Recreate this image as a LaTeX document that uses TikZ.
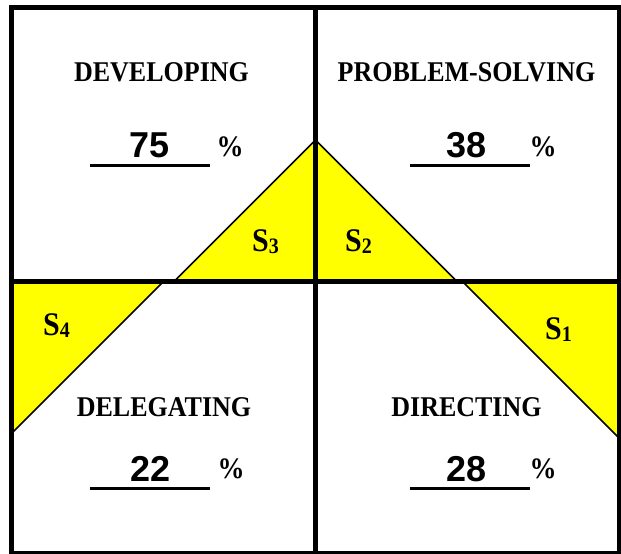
\documentclass[tikz,border=0pt]{standalone}
\usepackage{fontspec}
\setmainfont{Liberation Serif}
\newfontfamily\numfont{Liberation Sans}
\usetikzlibrary{positioning}
\definecolor{clrquad}{HTML}{FFFF00}
\definecolor{clrborder}{HTML}{000000}
\newcommand{\stretchy}[1]{\scalebox{1}[1.1]{#1}}
\newcommand{\sname}[1]{\bfseries\stretchy{\fontsize{30}{30}\selectfont S}\raisebox{-2pt}{\stretchy{\fontsize{20}{20}\selectfont #1}}}

\begin{document}
\begin{tikzpicture}[
    x=1pt, y=1pt,
    heading/.style={font=\fontsize{26}{26}\selectfont\bfseries, inner sep=0},
    score/.style={font=\numfont\fontsize{36}{36}\selectfont\bfseries, inner sep=0, anchor=base},
    pct/.style={font=\fontsize{27}{27}\selectfont\bfseries, inner sep=0, anchor=base},
    stylelbl/.style={inner sep=0, anchor=base west},
    frame/.style={draw=clrborder, line width=5pt},
    edge/.style={draw=clrborder, line width=1.5pt, line join=round},
    blank/.style={draw=clrborder, line width=3pt},
]
\useasboundingbox (0,0) rectangle (621,554);
\coordinate (apex) at (315.5,414);
\coordinate (mid_l) at (173.5,272);
\coordinate (mid_r) at (457.5,272);
\coordinate (s4_top) at (163,272);
\coordinate (s4_bot) at (11.5,120.5);
\coordinate (s1_top) at (463,272);
\coordinate (s1_bot) at (619.5,115.5);
\fill[clrquad] (mid_l) -- (apex) -- (mid_r) -- cycle;
\fill[clrquad] (11.5,272) -- (s4_top) -- (s4_bot) -- cycle;
\fill[clrquad] (619.5,272) -- (s1_top) -- (s1_bot) -- cycle;
\draw[edge] (mid_l) -- (apex) -- (mid_r);
\draw[edge] (s4_top) -- (s4_bot);
\draw[edge] (s1_top) -- (s1_bot);
\draw[frame] (11.5,0.5) rectangle (619.5,546.5);
\draw[frame] (315.5,0.5) -- (315.5,546.5);
\draw[frame] (11.5,272) -- (619.5,272);
\node[heading] (n_developing) at (161.5,481.5) {\stretchy{DEVELOPING}};
\node[heading] (n_problem) at (466.5,481.5) {\stretchy{PROBLEM-SOLVING}};
\node[heading] (n_delegating) at (164,147) {\stretchy{DELEGATING}};
\node[heading] (n_directing) at (466.5,147) {\stretchy{DIRECTING}};
\node[score] (n_dev_score) at (149.5,396) {75};
\node[score] (n_prob_score) at (467,396) {38};
\node[score] (n_dele_score) at (150.5,72) {22};
\node[score] (n_dir_score) at (467,72) {28};
\draw[blank] (90,388.5) -- (210,388.5);
\draw[blank] (410,388.5) -- (530,388.5);
\draw[blank] (90,65.5) -- (210,65.5);
\draw[blank] (410,65.5) -- (530,65.5);
\node[pct] (n_dev_pct) at (230,397) {\stretchy{\%}};
\node[pct] (n_prob_pct) at (543,397) {\stretchy{\%}};
\node[pct] (n_dele_pct) at (231,75) {\stretchy{\%}};
\node[pct] (n_dir_pct) at (543,75) {\stretchy{\%}};
\node[stylelbl] (n_s3) at (252,302) {\sname{3}};
\node[stylelbl] (n_s2) at (345,302) {\sname{2}};
\node[stylelbl] (n_s4) at (43,218) {\sname{4}};
\node[stylelbl] (n_s1) at (545,214) {\sname{1}};
\end{tikzpicture}
\end{document}
